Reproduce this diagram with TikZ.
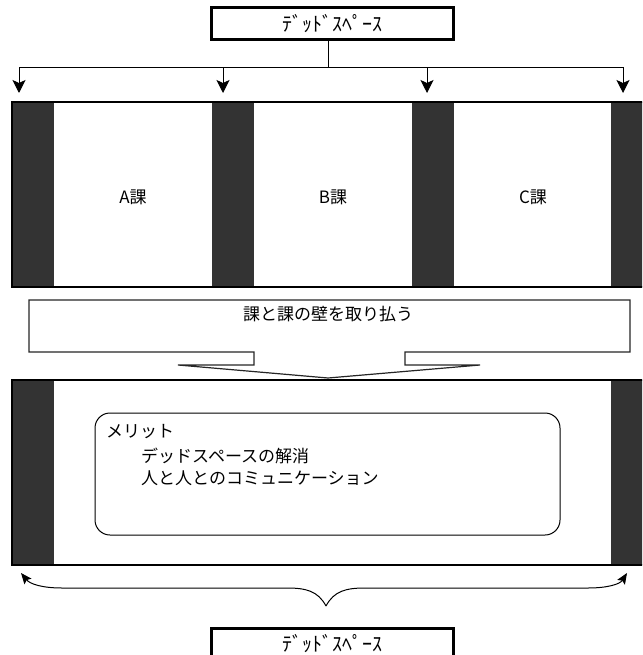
\documentclass[tikz,border=0pt]{standalone}
\usepackage{fontspec}
\setmainfont{Noto Sans CJK JP}
\usetikzlibrary{arrows.meta}
\definecolor{wallgray}{HTML}{333333}
\begin{document}
\begin{tikzpicture}[x=1pt,y=-1pt,
  dsbox/.style={draw, line width=3pt, minimum width=242pt, minimum height=32pt, inner sep=0pt, font=\fontsize{20pt}{22pt}\selectfont},
  lbl/.style={inner sep=0pt, font=\fontsize{17pt}{20pt}\selectfont},
  room/.style={line width=2pt},
  conn/.style={line width=1pt},
  arr/.style={line width=1pt, -{Stealth[length=13pt,width=13pt,inset=3pt]}},
  brarr/.style={line width=1pt, -{Stealth[length=11pt,width=9pt,inset=2pt]}},
  callout/.style={line width=1.2pt, draw=black!85, fill=white}
]
\useasboundingbox (0,0) rectangle (642,655);
\clip (0,0) rectangle (642,655);

% top dead-space box and distribution connectors
\node[dsbox] (ds1) at (332,24) {ﾃﾞｯﾄﾞｽﾍﾟｰｽ};
\coordinate (hub) at (328,68);
\coordinate (t1) at (19,93);
\coordinate (t2) at (223,93);
\coordinate (t3) at (427,93);
\coordinate (t4) at (623,93);
\draw[conn] (ds1.south -| hub) -- (hub);
\draw[arr] (hub) -| (t1);
\draw[arr] (hub) -| (t2);
\draw[arr] (hub) -| (t3);
\draw[arr] (hub) -| (t4);

% room with three sections
\foreach \xx in {12,212,412,611} \fill[wallgray] (\xx,102) rectangle ++(42,185);
\draw[room] (12,102) rectangle (670,287);
\node[lbl] (secA) at (133,197) {A課};
\node[lbl] (secB) at (333,197) {B課};
\node[lbl] (secC) at (533,197) {C課};

% callout arrow
\draw[callout] (29,300) -- (630,300) -- (630,352) -- (405,352) -- (405,365) -- (480,365)
  -- (328,378) -- (178,365) -- (254,365) -- (254,352) -- (29,352) -- cycle;
\node[lbl] (remove) at (328,314) {課と課の壁を取り払う};

% merged room
\fill[wallgray] (12,380) rectangle (54,565);
\fill[wallgray] (611,380) rectangle (670,565);
\draw[room] (12,380) rectangle (670,565);
\draw[line width=1pt, rounded corners=15pt] (95,413) rectangle (560,535);
\node[lbl, anchor=west] (merit) at (106,432) {メリット};
\node[lbl, anchor=west] (m1) at (141,456) {デッドスペースの解消};
\node[lbl, anchor=west] (m2) at (141,478) {人と人とのコミュニケーション};

% brace
\coordinate (bt) at (326,606);
\coordinate (bl) at (21,573);
\coordinate (br) at (627,573);
\draw[brarr] (bt) .. controls (318,591) and (306,588) .. (287,588) -- (62,588)
  .. controls (42,588) and (30,584) .. (bl);
\draw[brarr] (bt) .. controls (334,591) and (346,588) .. (365,588) -- (588,588)
  .. controls (608,588) and (620,584) .. (br);

% bottom dead-space box
\node[dsbox, minimum height=34pt, anchor=north] (ds2) at (332,627) {\raisebox{5pt}{ﾃﾞｯﾄﾞｽﾍﾟｰｽ}};
\end{tikzpicture}
\end{document}
